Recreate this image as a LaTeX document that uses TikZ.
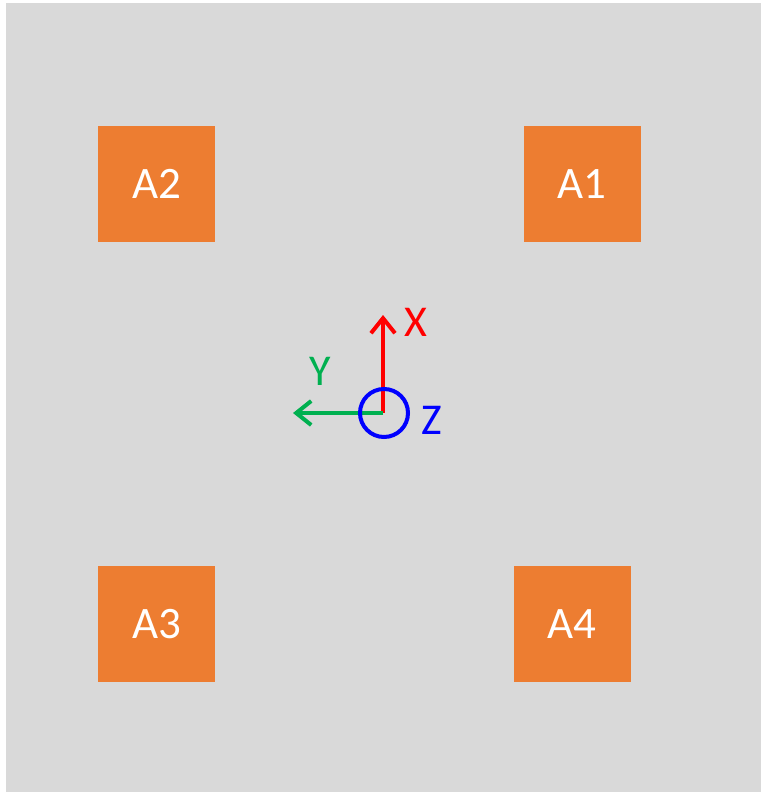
\documentclass[tikz,border=0pt]{standalone}
\usepackage{fontspec}
\setmainfont{Carlito}
\usetikzlibrary{arrows.meta}
\definecolor{bggray}{HTML}{D9D9D9}
\definecolor{boxorange}{HTML}{ED7D31}
\definecolor{axred}{HTML}{FF0000}
\definecolor{axgreen}{HTML}{00B050}
\definecolor{axblue}{HTML}{0000FF}
\tikzset{
  abox/.style={fill=boxorange, draw=none, minimum width=117pt, minimum height=116pt, inner sep=0pt, text=white, font=\fontsize{45}{45}\selectfont},
  axlabel/.style={inner sep=0pt, font=\fontsize{44}{44}\selectfont},
  axarrow/.style={line width=4.5pt, -{Straight Barb[length=15pt, width=24pt, line width=4pt]}},
}
\begin{document}
\begin{tikzpicture}[x=1pt,y=-1pt]
\useasboundingbox (0,0) rectangle (761,792);
\fill[white] (0,0) rectangle (761,792);
\fill[bggray] (6,3) rectangle (761,792);
\node[abox] (A2) at (156.5,184) {A2};
\node[abox] (A1) at (582,184) {A1};
\node[abox] (A3) at (156.5,624) {A3};
\node[abox] (A4) at (572,624) {A4};
\coordinate (O) at (383,413);
\coordinate (Xt) at (383,315);
\coordinate (Yt) at (293,413);
\draw[axarrow, axred] (O) -- (Xt);
\draw[axarrow, axgreen] (O) -- (Yt);
\node[draw=axblue, line width=4pt, circle, minimum size=48pt, inner sep=0pt] (Zc) at (384,413) {};
\node[axlabel, text=axred] (X) at (416,322) {X};
\node[axlabel, text=axgreen] (Y) at (320,371) {Y};
\node[axlabel, text=axblue] (Z) at (432,420) {Z};
\end{tikzpicture}
\end{document}
